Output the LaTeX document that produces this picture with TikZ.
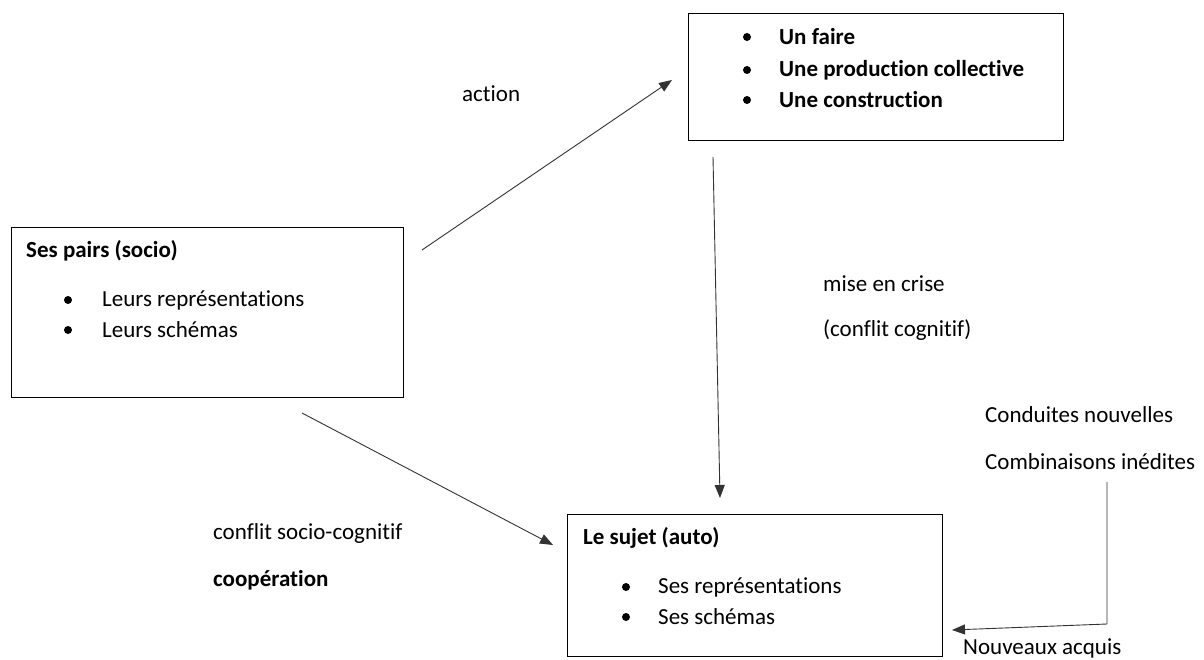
\documentclass[tikz,border=0pt]{standalone}
\usepackage{fontspec}
\setmainfont{Carlito}[Ligatures=NoCommon]
\usetikzlibrary{arrows.meta}
\begin{document}
\begin{tikzpicture}[x=1pt,y=-1pt,
  box/.style={draw=black, line width=1.3pt, inner sep=0pt, anchor=north west},
  txt/.style={anchor=west, inner sep=0pt, font=\fontsize{23}{27}\selectfont},
  btxt/.style={anchor=west, inner sep=0pt, font=\fontsize{23}{27}\selectfont\bfseries},
  dot/.style={circle, fill=black, inner sep=0pt, minimum size=8pt},
  conn/.style={draw=black!80, line width=0.9pt, -{Triangle[length=13pt,width=10pt]}}]
\useasboundingbox (0,0) rectangle (1204,660);
\fill[white] (0,0) rectangle (1204,660);

% boxes
\node[box, minimum width=375pt, minimum height=127pt] (topbox) at (688,13) {};
\node[box, minimum width=392pt, minimum height=170pt] (pairs) at (11,227) {};
\node[box, minimum width=375pt, minimum height=142pt] (sujet) at (567,514) {};

% top box content
\node[dot] (tb1) at (747,37) {};
\node[dot] (tb2) at (747,70) {};
\node[dot] (tb3) at (747,100) {};
\node[btxt] (tt1) at (779,37) {Un faire};
\node[btxt] (tt2) at (779,70) {Une production collective};
\node[btxt] (tt3) at (779,100) {Une construction};

% pairs box content
\node[btxt] (ptitle) at (26,251) {Ses pairs (socio)};
\node[dot] (pb1) at (68,300) {};
\node[dot] (pb2) at (68,330) {};
\node[txt] (pt1) at (102,300) {Leurs représentations};
\node[txt] (pt2) at (102,330) {Leurs schémas};

% sujet box content
\node[btxt] (stitle) at (583,538) {Le sujet (auto)};
\node[dot] (sb1) at (626,587) {};
\node[dot] (sb2) at (626,617) {};
\node[txt] (st1) at (658,587) {Ses représentations};
\node[txt] (st2) at (658,617) {Ses schémas};

% free labels
\node[txt] (action) at (462,94) {action};
\node[txt] (crise) at (823,284) {mise en crise};
\node[txt] (cogn) at (823,330) {(conflit cognitif)};
\node[txt] (cond) at (985,415) {Conduites nouvelles};
\node[txt] (comb) at (985,462) {Combinaisons inédites};
\node[txt] (nouv) at (963,648) {Nouveaux acquis};
\node[txt] (socio) at (213,533) {conflit socio-cognitif};
\node[btxt] (coop) at (213,580) {coopération};

% connector ends
\coordinate (a1s) at (422,250);
\coordinate (a1e) at (672,80);
\coordinate (a2s) at (713,157);
\coordinate (a2e) at (720,498);
\coordinate (a3s) at (302,413);
\coordinate (a3e) at (553,545);
\coordinate (a4s) at (1107,482);
\coordinate (a4m) at (1107,624);
\coordinate (a4e) at (952,630);

\draw[conn] (a1s) -- (a1e);
\draw[conn] (a2s) -- (a2e);
\draw[conn] (a3s) -- (a3e);
\draw[conn] (a4s) -- (a4m) -- (a4e);
\end{tikzpicture}
\end{document}
